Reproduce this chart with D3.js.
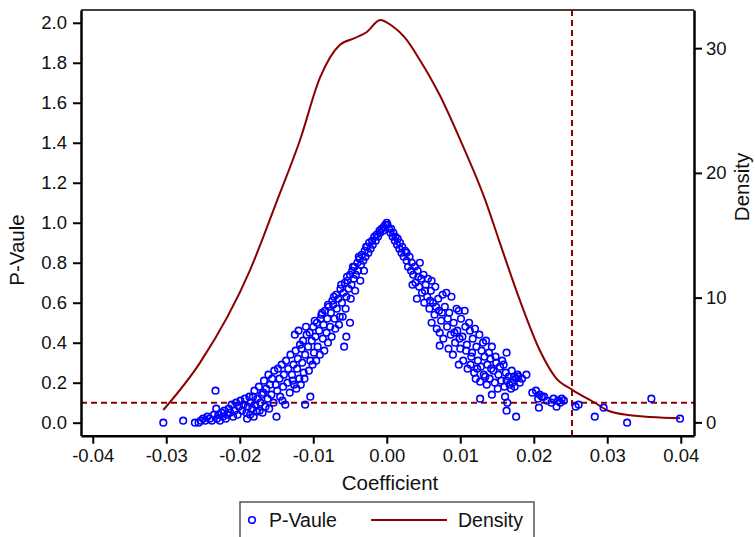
<!DOCTYPE html>
<html>
<head>
<meta charset="utf-8">
<script src="https://cdn.jsdelivr.net/npm/d3@7"></script>
<style>
  body { margin: 0; background: #fff; }
  svg { display: block; font-family: "Liberation Sans", Arial, sans-serif; }
  .axis text { font-size: 18.5px; fill: #111; }
  .axis path, .axis line { stroke: #000; }
</style>
</head>
<body>
<svg id="chart" width="755" height="537"></svg>
<script>
// p-values (coefficient, p-value)
const leftArm = [
  [-0.0304,0.00],[-0.0277,0.01],[-0.0261,0.00],[-0.0256,0.00],[-0.0253,0.01],[-0.0250,0.02],[-0.0247,0.01],
  [-0.0244,0.03],[-0.0241,0.02],[-0.0238,0.01],[-0.0235,0.04],[-0.0233,0.16],[-0.0232,0.07],[-0.0231,0.02],
  [-0.0229,0.04],[-0.0227,0.01],[-0.0225,0.05],[-0.0223,0.03],[-0.0221,0.06],[-0.0219,0.02],[-0.0217,0.04],
  [-0.0215,0.07],[-0.0213,0.05],[-0.0211,0.09],[-0.0209,0.03],[-0.0207,0.06],[-0.0205,0.10],[-0.0203,0.04],
  [-0.0201,0.08],[-0.0199,0.11],[-0.0197,0.06],[-0.0195,0.09],[-0.0193,0.12],[-0.0191,0.05],[-0.0189,0.08],
  [-0.0187,0.13],[-0.0185,0.10],[-0.0183,0.07],[-0.0182,0.13],[-0.0180,0.16],[-0.0179,0.09],[-0.0177,0.055],
  [-0.0176,0.12],[-0.0174,0.18],[-0.0172,0.10],[-0.0170,0.14],[-0.0168,0.15],[-0.0167,0.21],[-0.0165,0.08],
  [-0.0164,0.17],[-0.0162,0.12],[-0.0161,0.24],[-0.0159,0.19],[-0.0157,0.14],[-0.0156,0.22],[-0.0154,0.10],
  [-0.0153,0.26],[-0.0151,0.19],[-0.0150,0.03],[-0.0149,0.16],[-0.0148,0.27],[-0.0146,0.22],[-0.0145,0.13],
  [-0.0143,0.29],[-0.0141,0.18],[-0.0140,0.24],[-0.0138,0.09],[-0.0137,0.31],[-0.0135,0.20],[-0.0134,0.27],
  [-0.0132,0.15],[-0.0131,0.34],[-0.0129,0.24],[-0.0127,0.29],[-0.0126,0.19],[-0.0124,0.36],[-0.0122,0.27],
  [-0.0121,0.32],[-0.0119,0.22],[-0.0118,0.39],[-0.0116,0.37],[-0.0115,0.30],[-0.0114,0.41],[-0.0113,0.25],
  [-0.0111,0.09],[-0.0111,0.34],[-0.0109,0.44],[-0.0107,0.38],[-0.0105,0.45],[-0.0104,0.13],[-0.0104,0.31],
  [-0.0102,0.41],[-0.0100,0.48],[-0.0099,0.35],[-0.0097,0.43],[-0.0095,0.50],[-0.0094,0.38],[-0.0092,0.46],
  [-0.0090,0.52],[-0.0089,0.54],[-0.0087,0.42],[-0.0086,0.49],[-0.0084,0.56],[-0.0082,0.45],[-0.0081,0.52],
  [-0.0079,0.58],[-0.0077,0.48],[-0.0076,0.55],[-0.0074,0.61],[-0.0073,0.59],[-0.0071,0.52],[-0.0069,0.64],
  [-0.0068,0.57],[-0.0066,0.62],[-0.0064,0.53],[-0.0063,0.67],[-0.0061,0.60],[-0.0059,0.65],[-0.0058,0.38],
  [-0.0057,0.70],[-0.0055,0.43],[-0.0055,0.63],[-0.0053,0.71],[-0.0052,0.67],[-0.0050,0.50],[-0.0050,0.74],
  [-0.0048,0.69],[-0.0047,0.76],[-0.0045,0.72],[-0.0044,0.78],[-0.0042,0.74],[-0.0040,0.80],[-0.0039,0.76],
  [-0.0037,0.82],[-0.0035,0.79],[-0.0034,0.84],[-0.0032,0.81],[-0.0030,0.86],[-0.0029,0.83],[-0.0027,0.88],
  [-0.0025,0.85],[-0.0024,0.90],[-0.0022,0.87],[-0.0020,0.91],[-0.0019,0.89],[-0.0017,0.93],[-0.0015,0.91],
  [-0.0014,0.94],[-0.0012,0.93],[-0.0010,0.96],[-0.0009,0.95],[-0.0007,0.97],[-0.0005,0.96],[-0.0004,0.98],
  [-0.0002,0.99],
  [-0.0128,0.21],[-0.0123,0.17],[-0.0117,0.19],[-0.0112,0.22],[-0.0106,0.26],[-0.0101,0.29],[-0.0096,0.31],
  [-0.0091,0.34],[-0.0085,0.36],[-0.0080,0.40],[-0.0075,0.43],[-0.0070,0.47],[-0.0065,0.49],[-0.0060,0.53],
  [-0.0056,0.57],[-0.0049,0.62],[-0.0043,0.66],[-0.0036,0.71],[-0.0031,0.76],
  [-0.0125,0.44],[-0.0120,0.46],[-0.0110,0.48],[-0.0098,0.51],[-0.0088,0.55],[-0.0080,0.59],[-0.0072,0.63],
  [-0.0062,0.69],[-0.0054,0.73],[-0.0046,0.78],[-0.0038,0.83],[-0.0028,0.88],
  [-0.0190,0.02],[-0.0186,0.04],[-0.0181,0.03],[-0.0173,0.06],[-0.0169,0.05],[-0.0160,0.07],[-0.0142,0.11]
];
const rightArm = [
  [0.0000,1.00],[0.0001,0.99],[0.0003,0.97],[0.0005,0.95],[0.0006,0.97],[0.0008,0.93],[0.0009,0.95],
  [0.0011,0.91],[0.0012,0.93],[0.0014,0.89],[0.0015,0.92],[0.0017,0.87],[0.0018,0.90],[0.0020,0.85],
  [0.0021,0.88],[0.0023,0.83],[0.0025,0.86],[0.0027,0.81],[0.0027,0.85],[0.0029,0.78],[0.0031,0.83],
  [0.0033,0.76],[0.0034,0.80],[0.0036,0.74],[0.0038,0.78],[0.0039,0.70],[0.0041,0.62],[0.0042,0.76],
  [0.0044,0.68],[0.0045,0.80],[0.0047,0.72],[0.0048,0.65],[0.0050,0.74],[0.0051,0.60],[0.0053,0.69],
  [0.0055,0.63],[0.0056,0.72],[0.0058,0.57],[0.0060,0.66],[0.0061,0.71],[0.0061,0.50],[0.0063,0.60],
  [0.0065,0.54],[0.0066,0.68],[0.0068,0.47],[0.0070,0.62],[0.0071,0.56],[0.0072,0.45],[0.0072,0.385],
  [0.0074,0.51],[0.0076,0.64],[0.0077,0.42],[0.0079,0.58],[0.0081,0.65],[0.0082,0.48],[0.0084,0.37],
  [0.0085,0.55],[0.0087,0.44],[0.0088,0.63],[0.0090,0.34],[0.0091,0.50],[0.0093,0.40],[0.0095,0.57],
  [0.0096,0.46],[0.0098,0.29],[0.0098,0.56],[0.0100,0.37],[0.0101,0.52],[0.0103,0.43],[0.0104,0.31],
  [0.0106,0.56],[0.0107,0.48],[0.0109,0.39],[0.0110,0.27],[0.0112,0.50],[0.0113,0.46],[0.0114,0.29],
  [0.0116,0.35],[0.0117,0.42],[0.0119,0.25],[0.0120,0.47],[0.0121,0.22],[0.0122,0.38],[0.0124,0.31],
  [0.0126,0.44],[0.0127,0.12],[0.0127,0.205],[0.0128,0.28],[0.0129,0.36],[0.0131,0.40],[0.0132,0.24],
  [0.0133,0.33],[0.0135,0.41],[0.0136,0.19],[0.0137,0.29],[0.0139,0.35],[0.0140,0.22],[0.0141,0.32],
  [0.0143,0.38],[0.0143,0.14],[0.0145,0.26],[0.0147,0.20],[0.0148,0.33],[0.0149,0.30],[0.0151,0.17],
  [0.0152,0.24],[0.0154,0.28],[0.0156,0.21],[0.0157,0.31],[0.0159,0.29],[0.0160,0.18],[0.0161,0.13],
  [0.0162,0.25],[0.0163,0.35],[0.0163,0.21],[0.0163,0.06],[0.0164,0.10],[0.0166,0.23],[0.0167,0.19],
  [0.0169,0.17],[0.0170,0.26],[0.0171,0.20],[0.0173,0.23],[0.0174,0.18],[0.0176,0.03],[0.0176,0.22],
  [0.0178,0.24],[0.0179,0.23],[0.0181,0.20],[0.0184,0.22],[0.0190,0.24],[0.0198,0.15],[0.0203,0.16],
  [0.0206,0.12],[0.0207,0.075],[0.0208,0.14],[0.0211,0.13],[0.0214,0.13],[0.0218,0.11],[0.0224,0.10],
  [0.0227,0.12],[0.0231,0.08],[0.0233,0.11],[0.0236,0.10],[0.0238,0.12],[0.0241,0.11],[0.0257,0.08],
  [0.0261,0.09],[0.0283,0.03],[0.0295,0.075],[0.0327,0.00],[0.0360,0.12],[0.0399,0.02],
  [0.0035,0.69],[0.0043,0.73],[0.0052,0.66],[0.0059,0.61],[0.0067,0.58],[0.0075,0.55],[0.0083,0.52],
  [0.0092,0.45],[0.0099,0.42],[0.0108,0.36],[0.0115,0.33],[0.0123,0.27],[0.0134,0.23],[0.0142,0.27]
];

// density curve (coefficient, density)
const densityCoef = [-0.0304,-0.0254,-0.0186,-0.0149,-0.0118,-0.0091,-0.0064,-0.0043,-0.0027,-0.0009,
  0.0007,0.0025,0.0045,0.0072,0.0100,0.0134,0.0154,0.0181,0.0208,0.0230,0.0253,0.0286,0.0299,0.0328,0.0399];
const densityVal = [0.99,4.79,12.21,17.82,22.64,27.61,30.26,30.82,31.3,32.26,
  31.8,30.82,29.05,26.24,22.64,17.82,14.37,9.8,5.8,3.57,2.59,1.47,0.99,0.59,0.32];

const pCutoff = 0.1;        // horizontal dashed line
const trueCoef = 0.0252;    // vertical dashed line

const xTicks = [-0.04,-0.03,-0.02,-0.01,0,0.01,0.02,0.03,0.04];
const xTickLabels = ['-0.04','-0.03','-0.02','-0.01','0.00','0.01','0.02','0.03','0.04'];
const pTicks = [0,0.2,0.4,0.6,0.8,1.0,1.2,1.4,1.6,1.8,2.0];
const pTickLabels = ['0.0','0.2','0.4','0.6','0.8','1.0','1.2','1.4','1.6','1.8','2.0'];
const dTicks = [0,10,20,30];
const dTickLabels = ['0','10','20','30'];

const svg = d3.select('#chart');
const plotL = 81, plotR = 694, plotT = 10, plotB = 435.7;
const red = '#8b0000', blue = '#0000ff';

const x = d3.scaleLinear().domain([-0.0416, 0.0418]).range([plotL, plotR]);
const yP = d3.scaleLinear().domain([-0.065, 2.064]).range([plotB, plotT]);
const yD = d3.scaleLinear().domain([-1.07, 33.06]).range([plotB, plotT]);

// top frame
svg.append('line').attr('x1', plotL).attr('x2', plotR).attr('y1', plotT).attr('y2', plotT)
  .attr('stroke', '#000').attr('stroke-width', 1.5);

// density line
const densityPts = densityCoef.map((c, i) => [c, densityVal[i]]);
svg.append('path')
  .datum(densityPts)
  .attr('fill', 'none')
  .attr('stroke', red)
  .attr('stroke-width', 2)
  .attr('d', d3.line().x(d => x(d[0])).y(d => yD(d[1])).curve(d3.curveMonotoneX));

// reference lines
svg.append('line').attr('x1', plotL).attr('x2', plotR).attr('y1', yP(pCutoff)).attr('y2', yP(pCutoff))
  .attr('stroke', red).attr('stroke-width', 2).attr('stroke-dasharray', '6,4');
svg.append('line').attr('x1', x(trueCoef)).attr('x2', x(trueCoef)).attr('y1', plotT).attr('y2', plotB)
  .attr('stroke', red).attr('stroke-width', 2).attr('stroke-dasharray', '6,4');

// scatter
const points = leftArm.concat(rightArm);
svg.append('g').selectAll('circle').data(points).enter().append('circle')
  .attr('cx', d => x(d[0]))
  .attr('cy', d => yP(d[1]))
  .attr('r', 3.3)
  .attr('fill', 'none')
  .attr('stroke', blue)
  .attr('stroke-width', 1.6);

// axes
svg.append('g').attr('class', 'axis').attr('transform', `translate(0,${plotB})`)
  .call(d3.axisBottom(x).tickValues(xTicks).tickFormat((d, i) => xTickLabels[i])
    .tickSize(8).tickSizeOuter(0).tickPadding(5));
svg.append('g').attr('class', 'axis').attr('transform', `translate(${plotL},0)`)
  .call(d3.axisLeft(yP).tickValues(pTicks).tickFormat((d, i) => pTickLabels[i])
    .tickSize(8).tickSizeOuter(0).tickPadding(6));
svg.append('g').attr('class', 'axis').attr('transform', `translate(${plotR},0)`)
  .call(d3.axisRight(yD).tickValues(dTicks).tickFormat((d, i) => dTickLabels[i])
    .tickSize(8).tickSizeOuter(0).tickPadding(4));
svg.selectAll('.axis path').attr('stroke-width', 2.5);
svg.selectAll('.axis line').attr('stroke-width', 2);
svg.selectAll('.axis text').attr('fill', '#111');

// titles
svg.append('text').attr('x', 390).attr('y', 490).attr('text-anchor', 'middle')
  .style('font-size', '20.5px').attr('fill', '#111').text('Coefficient');
svg.append('text').attr('transform', 'translate(24,250) rotate(-90)').attr('text-anchor', 'middle')
  .style('font-size', '20.5px').attr('fill', '#111').text('P-Vaule');
svg.append('text').attr('transform', 'translate(749,187) rotate(-90)').attr('text-anchor', 'middle')
  .style('font-size', '20.5px').attr('fill', '#111').text('Density');

// legend
const lg = svg.append('g');
lg.append('rect').attr('x', 240).attr('y', 502).attr('width', 294).attr('height', 48)
  .attr('fill', '#fff').attr('stroke', '#555').attr('stroke-width', 1.5);
lg.append('circle').attr('cx', 252).attr('cy', 520).attr('r', 3.3)
  .attr('fill', 'none').attr('stroke', blue).attr('stroke-width', 1.6);
lg.append('text').attr('x', 269).attr('y', 527).style('font-size', '19.5px').attr('fill', '#111').text('P-Vaule');
lg.append('line').attr('x1', 371).attr('x2', 447).attr('y1', 520).attr('y2', 520)
  .attr('stroke', red).attr('stroke-width', 2);
lg.append('text').attr('x', 458).attr('y', 527).style('font-size', '19.5px').attr('fill', '#111').text('Density');
</script>
</body>
</html>
